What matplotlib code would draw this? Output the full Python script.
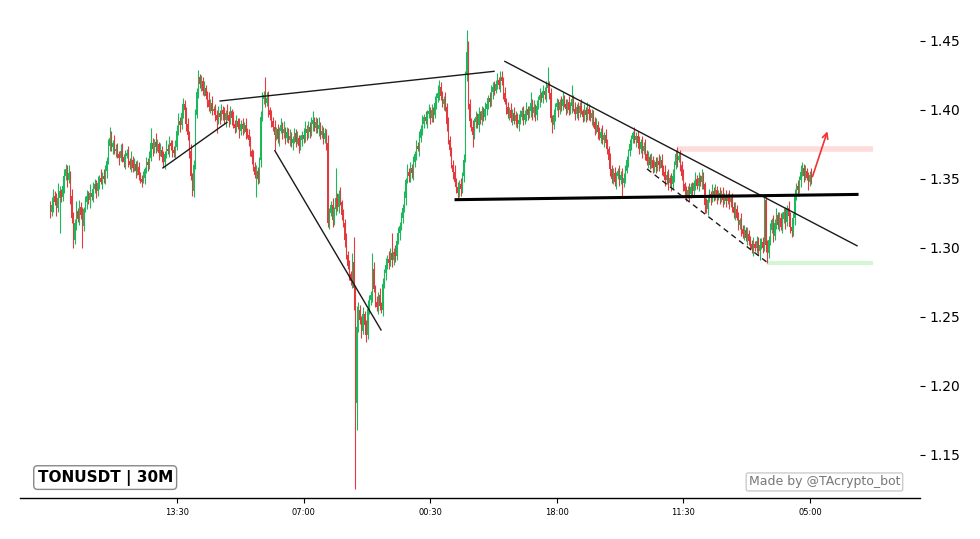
import matplotlib
matplotlib.use("Agg")
import matplotlib.pyplot as plt
import numpy as np

# ---- data (prices in thousandths) ----
close_milli = [
 1326, 1331, 1338, 1333, 1329, 1336, 1341, 1337, 1345, 1352,
 1357, 1349, 1354, 1338, 1322, 1306, 1318, 1327, 1321, 1330,
 1324, 1316, 1328, 1333, 1338, 1335, 1340, 1337, 1343, 1346,
 1341, 1347, 1351, 1348, 1352, 1350, 1356, 1363, 1374, 1380,
 1373, 1376, 1370, 1372, 1368, 1365, 1370, 1366, 1362, 1367,
 1369, 1363, 1360, 1364, 1358, 1361, 1356, 1359, 1353, 1350,
 1348, 1351, 1357, 1362, 1360, 1365, 1376, 1372, 1377, 1373,
 1375, 1369, 1371, 1366, 1362, 1368, 1372, 1370, 1376, 1374,
 1371, 1369, 1373, 1385, 1392, 1389, 1398, 1404, 1400, 1390,
 1382, 1370, 1352, 1341, 1360, 1396, 1413, 1424, 1419, 1421,
 1414, 1416, 1410, 1407, 1402, 1405, 1399, 1401, 1396, 1393,
 1398, 1395, 1400, 1397, 1393, 1398, 1396, 1392, 1399, 1394,
 1390, 1387, 1392, 1388, 1385, 1390, 1386, 1389, 1384, 1382,
 1378, 1370, 1366, 1359, 1353, 1356, 1350, 1364, 1395, 1408,
 1411, 1405, 1409, 1400, 1396, 1392, 1388, 1382, 1386, 1379,
 1385, 1389, 1383, 1386, 1380, 1384, 1378, 1381, 1376, 1379,
 1383, 1377, 1380, 1374, 1378, 1382, 1379, 1386, 1383, 1388,
 1384, 1390, 1393, 1387, 1391, 1386, 1389, 1382, 1385, 1379,
 1383, 1376, 1318, 1325, 1331, 1320, 1328, 1336, 1330, 1339,
 1333, 1324, 1318, 1306, 1295, 1287, 1281, 1276, 1290, 1271,
 1188, 1243, 1255, 1248, 1240, 1252, 1244, 1237, 1256, 1262,
 1266, 1285, 1270, 1261, 1257, 1266, 1258, 1255, 1274, 1282,
 1288, 1292, 1289, 1296, 1291, 1297, 1294, 1305, 1311, 1316,
 1322, 1329, 1336, 1349, 1355, 1352, 1358, 1354, 1362, 1368,
 1374, 1372, 1380, 1386, 1390, 1395, 1392, 1397, 1399, 1394,
 1400, 1396, 1405, 1409, 1412, 1417, 1410, 1404, 1408, 1402,
 1390, 1378, 1371, 1360, 1355, 1348, 1344, 1340, 1346, 1343,
 1352, 1364, 1426, 1442, 1404, 1392, 1388, 1382, 1391, 1395,
 1389, 1397, 1393, 1399, 1395, 1401, 1404, 1409, 1406, 1413,
 1417, 1414, 1419, 1422, 1418, 1424, 1421, 1412, 1406, 1402,
 1397, 1400, 1394, 1398, 1392, 1396, 1390, 1393, 1395, 1399,
 1393, 1397, 1401, 1396, 1399, 1405, 1398, 1402, 1396, 1403,
 1407, 1411, 1409, 1414, 1411, 1416, 1418, 1412, 1394, 1389,
 1396, 1402, 1405, 1400, 1406, 1403, 1408, 1404, 1401, 1406,
 1400, 1403, 1408, 1401, 1397, 1402, 1398, 1403, 1399, 1395,
 1400, 1396, 1401, 1397, 1394, 1398, 1391, 1386, 1389, 1384,
 1380, 1384, 1378, 1382, 1376, 1372, 1364, 1357, 1350, 1354,
 1348, 1352, 1356, 1349, 1353, 1347, 1351, 1356, 1364, 1370,
 1375, 1379, 1383, 1378, 1381, 1376, 1372, 1377, 1370, 1374,
 1368, 1363, 1366, 1360, 1364, 1358, 1362, 1359, 1363, 1360,
 1364, 1358, 1355, 1349, 1353, 1347, 1351, 1346, 1352, 1360,
 1368, 1364, 1367, 1360, 1352, 1346, 1341, 1338, 1342, 1339,
 1344, 1341, 1347, 1350, 1345, 1351, 1348, 1352, 1346, 1331,
 1328, 1335, 1339, 1336, 1341, 1338, 1342, 1337, 1340, 1336,
 1339, 1335, 1338, 1334, 1337, 1333, 1336, 1330, 1325, 1328,
 1322, 1317, 1320, 1314, 1310, 1313, 1307, 1310, 1305, 1303,
 1299, 1303, 1300, 1305, 1298, 1302, 1304, 1300, 1335, 1302,
 1296, 1306, 1313, 1320, 1309, 1318, 1324, 1317, 1322, 1315,
 1321, 1326, 1319, 1329, 1323, 1315, 1312, 1322, 1338, 1345,
 1342, 1349, 1355, 1358, 1352, 1356, 1351, 1348, 1353, 1350,
]
first_open_milli = 1330

upper_wick_milli = [
 4, 6, 5, 3, 7, 11, 4, 2, 6, 5,
 4, 3, 6, 2, 5, 4, 3, 7, 2, 5,
 3, 6, 2, 5, 4, 3, 6, 2, 5, 4,
 3, 5, 2, 6, 3, 5, 4, 3, 5, 8,
 5, 2, 6, 3, 4, 2, 5, 6, 2, 4,
 3, 5, 2, 6, 3, 4, 2, 5, 3, 2,
 3, 5, 2, 4, 3, 5, 11, 4, 2, 6,
 4, 2, 5, 3, 4, 2, 6, 3, 5, 2,
 4, 3, 5, 4, 6, 3, 2, 5, 3, 2,
 4, 3, 5, 2, 4, 5, 3, 5, 2, 4,
 3, 5, 2, 4, 6, 3, 5, 2, 3, 4,
 5, 2, 4, 3, 5, 2, 6, 3, 4, 2,
 5, 3, 4, 2, 6, 3, 4, 2, 5, 3,
 4, 3, 2, 5, 3, 4, 3, 2, 4, 5,
 3, 13, 4, 5, 2, 4, 3, 5, 2, 4,
 3, 5, 2, 6, 2, 4, 3, 5, 3, 2,
 4, 3, 5, 2, 4, 3, 5, 6, 3, 4,
 3, 5, 6, 2, 4, 3, 6, 2, 4, 3,
 4, 3, 6, 4, 3, 5, 2, 22, 4, 3,
 5, 2, 4, 3, 5, 3, 4, 2, 6, 18,
 2, 15, 6, 4, 3, 5, 2, 4, 6, 4,
 3, 11, 5, 3, 4, 2, 5, 3, 4, 3,
 5, 3, 6, 4, 15, 3, 5, 2, 4, 3,
 4, 3, 5, 2, 6, 3, 4, 3, 5, 2,
 4, 3, 5, 3, 6, 2, 4, 3, 5, 3,
 4, 2, 5, 3, 6, 5, 3, 4, 2, 5,
 3, 5, 3, 2, 4, 5, 3, 4, 3, 5,
 3, 4, 2, 16, 8, 4, 2, 5, 3, 4,
 3, 5, 2, 4, 3, 5, 3, 2, 4, 5,
 3, 4, 3, 5, 2, 4, 4, 3, 5, 3,
 4, 2, 5, 3, 4, 3, 2, 4, 5, 3,
 4, 3, 5, 2, 4, 8, 3, 5, 2, 4,
 3, 5, 2, 4, 3, 5, 13, 3, 4, 2,
 5, 3, 4, 3, 2, 4, 5, 3, 4, 2,
 4, 3, 10, 3, 5, 2, 4, 3, 5, 2,
 4, 2, 5, 3, 4, 3, 2, 4, 5, 3,
 4, 3, 5, 2, 4, 3, 2, 5, 3, 4,
 5, 3, 2, 4, 3, 5, 3, 4, 3, 2,
 4, 3, 2, 5, 3, 4, 5, 2, 4, 3,
 5, 3, 4, 2, 5, 3, 2, 4, 3, 5,
 3, 4, 2, 5, 3, 4, 2, 3, 5, 3,
 3, 5, 2, 4, 3, 5, 2, 4, 3, 5,
 3, 4, 2, 5, 3, 4, 2, 5, 3, 2,
 5, 3, 4, 2, 5, 3, 4, 3, 2, 4,
 3, 5, 2, 4, 3, 5, 2, 4, 3, 5,
 3, 4, 2, 5, 3, 4, 2, 5, 3, 4,
 3, 5, 2, 4, 3, 5, 3, 4, 2, 3,
 4, 3, 5, 2, 4, 3, 5, 2, 4, 3,
 5, 3, 4, 2, 5, 3, 4, 3, 5, 2,
 4, 3, 5, 4, 3, 4, 2, 4, 3, 5,
]

lower_wick_milli = [
 4, 3, 5, 2, 6, 3, 25, 4, 3, 5,
 3, 5, 2, 6, 4, 6, 3, 5, 2, 4,
 3, 16, 4, 2, 5, 3, 6, 2, 4, 3,
 5, 3, 4, 2, 5, 3, 4, 5, 2, 4,
 3, 5, 2, 4, 3, 5, 2, 4, 3, 5,
 2, 4, 3, 5, 3, 2, 5, 3, 4, 3,
 4, 1, 5, 3, 4, 3, 2, 5, 3, 4,
 3, 5, 2, 4, 3, 5, 3, 2, 4, 3,
 5, 3, 4, 2, 3, 5, 3, 4, 3, 5,
 4, 5, 3, 3, 4, 3, 2, 4, 3, 5,
 3, 4, 2, 5, 3, 4, 3, 2, 4, 10,
 3, 5, 2, 4, 3, 5, 3, 4, 2, 5,
 3, 4, 3, 2, 5, 3, 4, 3, 5, 2,
 4, 3, 5, 3, 2, 16, 4, 3, 5, 3,
 4, 3, 2, 5, 3, 4, 3, 11, 4, 3,
 5, 2, 4, 3, 5, 3, 2, 4, 3, 5,
 3, 4, 2, 5, 3, 4, 3, 2, 5, 3,
 4, 3, 5, 2, 4, 3, 5, 3, 2, 4,
 3, 5, 3, 4, 2, 5, 3, 4, 3, 5,
 2, 4, 3, 5, 3, 2, 4, 3, 5, 16,
 63, 20, 4, 3, 5, 2, 4, 5, 3, 4,
 3, 5, 2, 4, 3, 5, 3, 2, 4, 3,
 5, 3, 4, 2, 5, 3, 4, 3, 2, 5,
 3, 4, 3, 5, 2, 4, 4, 3, 5, 3,
 4, 2, 5, 3, 4, 3, 2, 5, 3, 4,
 3, 5, 2, 4, 3, 5, 3, 2, 4, 3,
 5, 3, 4, 2, 5, 3, 4, 4, 3, 5,
 3, 4, 2, 5, 3, 4, 3, 9, 3, 4,
 2, 5, 3, 4, 3, 2, 5, 3, 4, 3,
 5, 3, 2, 4, 3, 5, 3, 4, 2, 5,
 3, 4, 3, 5, 2, 4, 3, 5, 3, 2,
 4, 3, 5, 3, 2, 4, 5, 3, 4, 3,
 2, 5, 3, 4, 3, 5, 2, 4, 3, 6,
 3, 4, 2, 5, 3, 4, 3, 2, 5, 3,
 4, 3, 5, 2, 4, 3, 5, 3, 2, 4,
 3, 5, 3, 4, 2, 5, 3, 4, 3, 5,
 2, 4, 3, 5, 3, 4, 2, 5, 3, 4,
 3, 5, 2, 4, 3, 9, 3, 4, 2, 5,
 3, 4, 3, 2, 5, 3, 4, 3, 5, 2,
 4, 3, 5, 3, 2, 4, 3, 5, 3, 4,
 2, 5, 3, 4, 3, 5, 2, 5, 3, 4,
 3, 5, 2, 4, 3, 5, 3, 4, 2, 5,
 3, 4, 3, 5, 2, 4, 3, 5, 3, 6,
 3, 4, 2, 5, 3, 4, 3, 5, 2, 4,
 3, 5, 3, 4, 2, 5, 3, 4, 3, 5,
 2, 4, 3, 5, 3, 4, 2, 5, 3, 4,
 3, 5, 2, 4, 3, 7, 3, 4, 2, 5,
 7, 3, 4, 2, 5, 3, 4, 3, 5, 2,
 4, 3, 5, 3, 2, 4, 4, 3, 5, 3,
 4, 2, 5, 3, 4, 3, 2, 6, 3, 4,
]

tick_positions = [83, 166, 249, 332, 415, 498]
tick_labels = ["13:30", "07:00", "00:30", "18:00", "11:30", "05:00"]
y_ticks = [1.15, 1.20, 1.25, 1.30, 1.35, 1.40, 1.45]

# trend lines: (x0, y0, x1, y1) in candle index / price
thin_lines = [
    (73.8, 1.3580, 115.8, 1.3910),
    (111.3, 1.4065, 290.9, 1.4280),
    (147.2, 1.3705, 216.8, 1.2406),
    (298.0, 1.4352, 528.9, 1.3016),
]
support_line = (266.0, 1.3350, 528.9, 1.3388)
dashed_line = (391.2, 1.3573, 470.6, 1.2890)
resistance_zone = (410.9, 539.2, 1.3717)
support_zone = (470.0, 539.2, 1.2890)
arrow_from = (499.7, 1.3517)
arrow_to = (509.5, 1.3845)

title_text = "TONUSDT | 30M"
watermark_text = "Made by @TAcrypto_bot"

# ---- build OHLC ----
close = np.array(close_milli) / 1000.0
opens = np.concatenate([[first_open_milli / 1000.0], close[:-1]])
high = np.maximum(opens, close) + np.array(upper_wick_milli) / 1000.0
low = np.minimum(opens, close) - np.array(lower_wick_milli) / 1000.0
idx = np.arange(len(close))

GREEN = "#1cb85c"
RED = "#e23a3e"
colors = np.where(close >= opens, GREEN, RED)

fig = plt.figure(figsize=(9.8, 5.39), dpi=100)
ax = fig.add_axes([20 / 980, 1 - 498 / 539, 900 / 980, 478 / 539])

ax.vlines(idx, low, high, colors=colors, linewidth=0.8, zorder=2)
body_h = np.abs(close - opens)
body_h = np.where(body_h < 0.0005, 0.0005, body_h)
ax.bar(idx, body_h, bottom=np.minimum(opens, close), width=0.8,
       color=colors, linewidth=0, zorder=3)

for (x0, y0, x1, y1) in thin_lines:
    ax.plot([x0, x1], [y0, y1], color="#1a1a1a", linewidth=1.0, zorder=4)
ax.plot([support_line[0], support_line[2]], [support_line[1], support_line[3]],
        color="black", linewidth=2.2, zorder=4)
ax.plot([dashed_line[0], dashed_line[2]], [dashed_line[1], dashed_line[3]],
        color="#1a1a1a", linewidth=1.0, linestyle=(0, (4, 3)), zorder=4)
ax.plot([resistance_zone[0], resistance_zone[1]], [resistance_zone[2]] * 2,
        color="#ff9999", alpha=0.35, linewidth=4, solid_capstyle="butt", zorder=1)
ax.plot([support_zone[0], support_zone[1]], [support_zone[2]] * 2,
        color="#88e888", alpha=0.35, linewidth=3, solid_capstyle="butt", zorder=1)
ax.annotate("", xy=arrow_to, xytext=arrow_from,
            arrowprops=dict(arrowstyle="->", color="#ee3333", lw=1.2,
                            shrinkA=0, shrinkB=0), zorder=5)

ax.set_xlim(-19.9, 570.2)
ax.set_ylim(1.1188, 1.4652)

for s in ["top", "left", "right"]:
    ax.spines[s].set_visible(False)
ax.spines["bottom"].set_linewidth(1.0)

ax.yaxis.tick_right()
ax.set_yticks(y_ticks)
ax.set_yticklabels([f"{v:.2f}" for v in y_ticks], fontsize=10)
ax.tick_params(axis="y", length=3.5, pad=3)
ax.set_xticks(tick_positions)
ax.set_xticklabels(tick_labels, fontsize=6)
ax.tick_params(axis="x", length=3.5, pad=4)

ax.text(0.0195, 0.026, title_text, transform=ax.transAxes, fontsize=11,
        fontweight="bold", ha="left", va="bottom",
        bbox=dict(boxstyle="round,pad=0.25", facecolor="white",
                  edgecolor="#888888", linewidth=1.0))
ax.text(0.978, 0.02, watermark_text, transform=ax.transAxes, fontsize=9,
        color="#777777", ha="right", va="bottom",
        bbox=dict(boxstyle="round,pad=0.2,rounding_size=0.15", facecolor="white",
                  edgecolor="#cccccc", linewidth=1.0))

fig.savefig("out.png", dpi=100)
